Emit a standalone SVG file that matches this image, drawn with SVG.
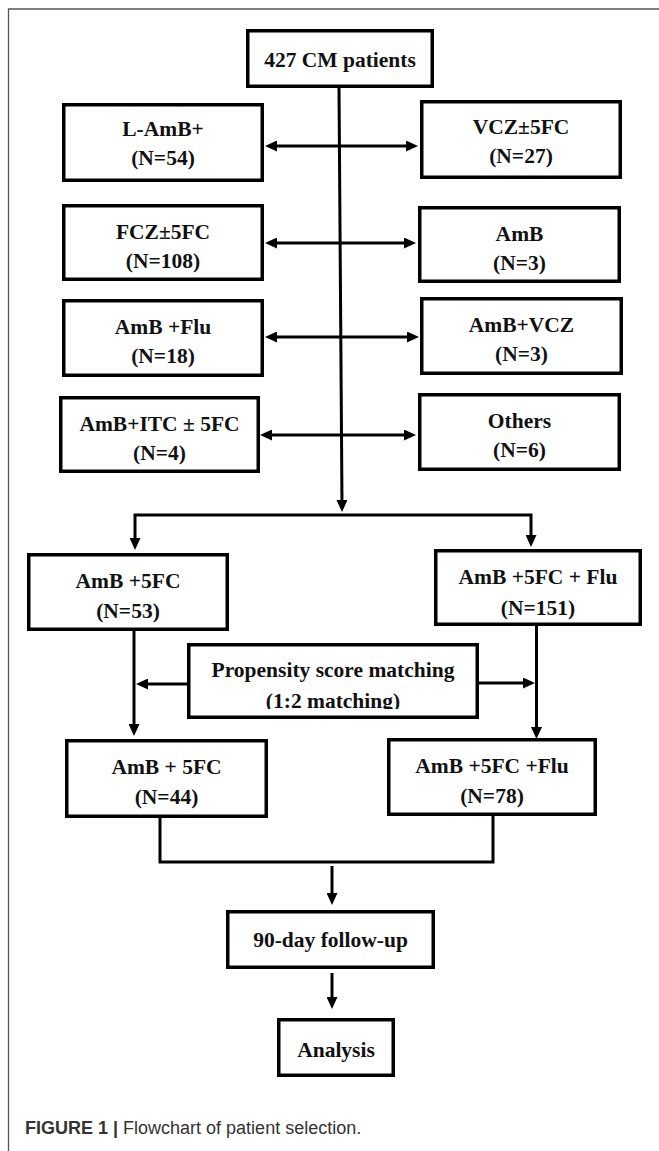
<svg xmlns="http://www.w3.org/2000/svg" width="659" height="1151" viewBox="0 0 659 1151">
  <style>
    .box { fill: #fff; stroke: #000; stroke-width: 3.5; }
    .lbl { font-family: "Liberation Serif", "Times New Roman", serif; font-weight: bold; font-size: 21.5px; fill: #111; text-anchor: middle; }
    .conn { fill: none; stroke: #000; stroke-width: 3; stroke-linejoin: miter; }
    .cap { font-family: "Liberation Sans", Arial, sans-serif; font-size: 18px; fill: #333; }
  </style>
  <defs>
    <marker id="ah" markerUnits="userSpaceOnUse" markerWidth="12" markerHeight="11" refX="4" refY="5.5" orient="auto-start-reverse">
      <path d="M0,0 L12,5.5 L0,11 z" fill="#000"/>
    </marker>
    <clipPath id="psmclip">
      <rect x="180" y="640" width="310" height="69"/>
    </clipPath>
  </defs>

  <rect width="659" height="1151" fill="#fff"/>
  <path d="M8.5,1151 V9 H659" fill="none" stroke="#555" stroke-width="1.3"/>

  <g id="connectors">
    <path class="conn" d="M339,88 L342,504" marker-end="url(#ah)"/>
    <path class="conn" d="M273,146 H410" marker-start="url(#ah)" marker-end="url(#ah)"/>
    <path class="conn" d="M273,243 H408" marker-start="url(#ah)" marker-end="url(#ah)"/>
    <path class="conn" d="M273,337 H411" marker-start="url(#ah)" marker-end="url(#ah)"/>
    <path class="conn" d="M268,435 H408" marker-start="url(#ah)" marker-end="url(#ah)"/>
    <path class="conn" d="M135,542 V515 H531 V539" marker-start="url(#ah)" marker-end="url(#ah)"/>
    <path class="conn" d="M134,631 V728" marker-end="url(#ah)"/>
    <path class="conn" d="M536.5,626 V731" marker-end="url(#ah)"/>
    <path class="conn" d="M187,684 H144" marker-end="url(#ah)"/>
    <path class="conn" d="M479,683 H527" marker-end="url(#ah)"/>
    <path class="conn" d="M160,818 V862 H493 V816"/>
    <path class="conn" d="M332,866 V897" marker-end="url(#ah)"/>
    <path class="conn" d="M332,973 V1001" marker-end="url(#ah)"/>
  </g>

  <g id="n427">
    <rect class="box" x="247.75" y="30.75" width="184.5" height="55.5"/>
    <text class="lbl" x="340" y="67">427 CM patients</text>
  </g>
  <g id="lamb">
    <rect class="box" x="63.75" y="104.75" width="198.5" height="75.5"/>
    <text class="lbl" x="163" y="136">L-AmB+</text>
    <text class="lbl" x="163" y="165">(N=54)</text>
  </g>
  <g id="vcz">
    <rect class="box" x="421.75" y="101.75" width="198.5" height="75.5"/>
    <text class="lbl" x="521" y="134">VCZ±5FC</text>
    <text class="lbl" x="521" y="163">(N=27)</text>
  </g>
  <g id="fcz">
    <rect class="box" x="63.75" y="205.75" width="198.5" height="73.5"/>
    <text class="lbl" x="163" y="239">FCZ±5FC</text>
    <text class="lbl" x="163" y="268">(N=108)</text>
  </g>
  <g id="amb">
    <rect class="box" x="419.75" y="207.75" width="199.5" height="73.5"/>
    <text class="lbl" x="519.5" y="241">AmB</text>
    <text class="lbl" x="519.5" y="270">(N=3)</text>
  </g>
  <g id="ambflu">
    <rect class="box" x="63.75" y="300.75" width="198.5" height="74.5"/>
    <text class="lbl" x="163" y="334">AmB +Flu</text>
    <text class="lbl" x="163" y="363">(N=18)</text>
  </g>
  <g id="ambvcz">
    <rect class="box" x="421.75" y="298.75" width="199.5" height="74.5"/>
    <text class="lbl" x="521.5" y="332">AmB+VCZ</text>
    <text class="lbl" x="521.5" y="361">(N=3)</text>
  </g>
  <g id="ambitc">
    <rect class="box" x="60.75" y="397.75" width="197.5" height="73.5"/>
    <text class="lbl" x="159.5" y="431">AmB+ITC ± 5FC</text>
    <text class="lbl" x="159.5" y="460">(N=4)</text>
  </g>
  <g id="others">
    <rect class="box" x="419.75" y="394.75" width="199.5" height="74.5"/>
    <text class="lbl" x="519.5" y="428">Others</text>
    <text class="lbl" x="519.5" y="457">(N=6)</text>
  </g>
  <g id="amb5fc">
    <rect class="box" x="28.75" y="554.75" width="198.5" height="74.5"/>
    <text class="lbl" x="128" y="588">AmB +5FC</text>
    <text class="lbl" x="128" y="618">(N=53)</text>
  </g>
  <g id="amb5fcflu">
    <rect class="box" x="435.75" y="550.75" width="204.5" height="73.5"/>
    <text class="lbl" x="538" y="584">AmB +5FC + Flu</text>
    <text class="lbl" x="538" y="615">(N=151)</text>
  </g>
  <g id="psm">
    <rect class="box" x="188.75" y="644.75" width="288.5" height="72.5"/>
    <text class="lbl" x="333" y="677">Propensity score matching</text>
    <text class="lbl" x="333" y="708" clip-path="url(#psmclip)">(1:2 matching)</text>
  </g>
  <g id="amb5fc-matched">
    <rect class="box" x="66.75" y="740.75" width="199.5" height="75.5"/>
    <text class="lbl" x="166.5" y="774">AmB + 5FC</text>
    <text class="lbl" x="166.5" y="804">(N=44)</text>
  </g>
  <g id="amb5fcflu-matched">
    <rect class="box" x="388.75" y="739.75" width="206.5" height="74.5"/>
    <text class="lbl" x="492" y="773">AmB +5FC +Flu</text>
    <text class="lbl" x="492" y="803">(N=78)</text>
  </g>
  <g id="followup">
    <rect class="box" x="227.75" y="911.75" width="205.5" height="55.5"/>
    <text class="lbl" x="330.5" y="947">90-day follow-up</text>
  </g>
  <g id="analysis">
    <rect class="box" x="278.75" y="1019.75" width="114.5" height="55.5"/>
    <text class="lbl" x="336" y="1057">Analysis</text>
  </g>

  <text class="cap" x="25" y="1134"><tspan font-weight="bold">FIGURE 1 | </tspan>Flowchart of patient selection.</text>
</svg>
